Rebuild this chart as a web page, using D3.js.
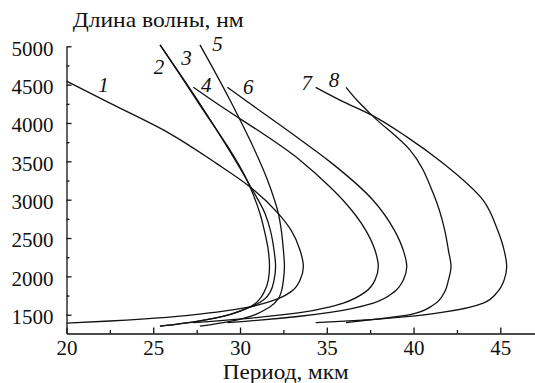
<!DOCTYPE html>
<html>
<head>
<meta charset="utf-8">
<title>Период и длина волны</title>
<script src="https://cdn.jsdelivr.net/npm/d3@7"></script>
<style>
  body { margin: 0; background: #fff; }
  svg text { font-family: "Liberation Serif", serif; fill: #111; }
</style>
</head>
<body>
<script>
// [period, wavelength] pairs, ordered by falling wavelength
const curve1 = [[20.0,4547],[22.5,4260],[25.78,3885],[28.66,3470],[30.58,3166],[32.21,2819],[32.95,2600],[33.46,2340],[33.65,2128],
                [33.46,1951],[32.95,1801],[32.21,1709],[30.58,1603],[28.66,1535],[25.78,1465],[22.5,1418],[20.0,1389]];
const curve2 = [[25.39,5020],[27.50,4299],[30.58,3166],[31.15,2819],[31.40,2600],[31.63,2340],[31.70,2128],
                [31.63,1951],[31.40,1801],[31.15,1709],[30.58,1603],[27.50,1414],[25.39,1350]];
const curve3 = [[25.39,5020],[27.55,4299],[30.62,3166],[31.44,2819],[31.75,2600],[31.96,2340],[32.05,2128],
                [31.96,1951],[31.75,1801],[31.44,1709],[30.62,1603],[27.55,1414],[25.39,1350]];
const curve4 = [[27.31,4465],[28.37,4299],[33.46,3515],[35.19,3166],[35.95,2990],[37.25,2600],[37.78,2340],[37.97,2128],
                [37.78,1951],[37.25,1801],[35.95,1652],[35.19,1603],[33.46,1526],[28.37,1414],[27.31,1397]];
const curve5 = [[27.69,5020],[29.42,4299],[31.73,3166],[32.21,2819],[32.38,2600],[32.50,2340],[32.56,2128],
                [32.50,1951],[32.38,1801],[32.21,1709],[31.73,1603],[29.42,1414],[27.69,1350]];
const curve6 = [[29.27,4465],[30.29,4299],[33.46,3785],[35.19,3493],[37.68,2990],[38.90,2600],[39.41,2340],[39.61,2128],
                [39.41,1951],[38.90,1801],[37.68,1652],[35.19,1530],[33.46,1480],[30.29,1414],[29.27,1397]];
const curve7 = [[34.36,4465],[35.76,4299],[37.59,4103],[39.61,3819],[41.72,3472],[44.02,2990],[44.85,2600],[45.22,2340],[45.37,2128],
                [45.22,1951],[44.85,1801],[44.02,1652],[41.72,1534],[39.61,1475],[37.59,1437],[35.76,1414],[34.36,1397]];
const curve8 = [[36.11,4465],[36.73,4299],[37.59,4103],[39.80,3646],[41.14,3080],[41.80,2600],[42.01,2340],[42.16,2128],
                [42.01,1951],[41.80,1801],[41.14,1626],[39.80,1502],[37.59,1437],[36.73,1414],[36.11,1397]];

const curves = [curve1, curve2, curve3, curve4, curve5, curve6, curve7, curve8];
const curveNames = ['1', '2', '3', '4', '5', '6', '7', '8'];

const xMajor = [20, 25, 30, 35, 40, 45];
const xMinor = [22.5, 27.5, 32.5, 37.5, 42.5];
const yMajor = [1500, 2000, 2500, 3000, 3500, 4000, 4500, 5000];
const yMinor = [1750, 2250, 2750, 3250, 3750, 4250, 4750];

const yTitle = 'Длина волны, нм';
const xTitle = 'Период, мкм';

const width = 535, height = 383;
const svg = d3.select('body').append('svg')
    .attr('width', width)
    .attr('height', height);

const x = d3.scaleLinear().domain([20, 47]).range([66.5, 535]);
const y = d3.scaleLinear().domain([1255, 5000]).range([333.5, 46.3]);

const font = 21;
const serif = '"Liberation Serif", serif';

// axes, ticks pointing inwards
const yAxis = svg.append('g')
    .attr('transform', `translate(${x(20)},0)`)
    .call(d3.axisLeft(y).tickValues(yMajor).tickFormat(d3.format('d'))
        .tickSize(-5).tickSizeOuter(0).tickPadding(13));
svg.append('g')
    .attr('transform', `translate(${x(20)},0)`)
    .call(d3.axisLeft(y).tickValues(yMinor).tickSize(-3).tickFormat(''))
    .select('.domain').remove();

const xAxis = svg.append('g')
    .attr('transform', `translate(0,${y(1255)})`)
    .call(d3.axisBottom(x).tickValues(xMajor).tickFormat(d3.format('d'))
        .tickSize(-6).tickSizeOuter(0).tickPadding(7));
svg.append('g')
    .attr('transform', `translate(0,${y(1255)})`)
    .call(d3.axisBottom(x).tickValues(xMinor).tickSize(-3.5).tickFormat(''))
    .select('.domain').remove();

svg.selectAll('.domain, .tick line')
    .attr('stroke', '#111')
    .attr('stroke-width', 1.3);
svg.selectAll('.tick text')
    .style('font-family', serif)
    .style('font-size', font + 'px')
    .attr('fill', '#111');
yAxis.selectAll('.tick text').attr('dy', '0.42em');

svg.append('text')
    .attr('x', 72.7)
    .attr('y', 27)
    .attr('font-size', 22)
    .attr('textLength', 171)
    .attr('lengthAdjust', 'spacingAndGlyphs')
    .text(yTitle);

svg.append('text')
    .attr('x', 222.7)
    .attr('y', 379)
    .attr('font-size', 21)
    .attr('textLength', 126)
    .attr('lengthAdjust', 'spacingAndGlyphs')
    .text(xTitle);

// x depends on wavelength only, so interpolate along y
const line = d3.line()
    .x(d => x(d[0]))
    .y(d => y(d[1]))
    .curve(d3.curveMonotoneY);

svg.append('g')
    .selectAll('path')
    .data(curves)
    .enter()
    .append('path')
    .attr('d', line)
    .attr('fill', 'none')
    .attr('stroke', '#111')
    .attr('stroke-width', 1.3);

// label offsets from each curve's first point, in pixels
const labelOffsets = [[37, 11], [-1, 29], [26.5, 20], [13, 5], [17.5, 6], [21, 7], [-9, 3], [-12, 0]];

svg.append('g')
    .selectAll('text')
    .data(curves)
    .enter()
    .append('text')
    .attr('x', (d, i) => x(d[0][0]) + labelOffsets[i][0])
    .attr('y', (d, i) => y(d[0][1]) + labelOffsets[i][1])
    .attr('text-anchor', 'middle')
    .attr('font-size', font)
    .attr('font-style', 'italic')
    .text((d, i) => curveNames[i]);
</script>
</body>
</html>
